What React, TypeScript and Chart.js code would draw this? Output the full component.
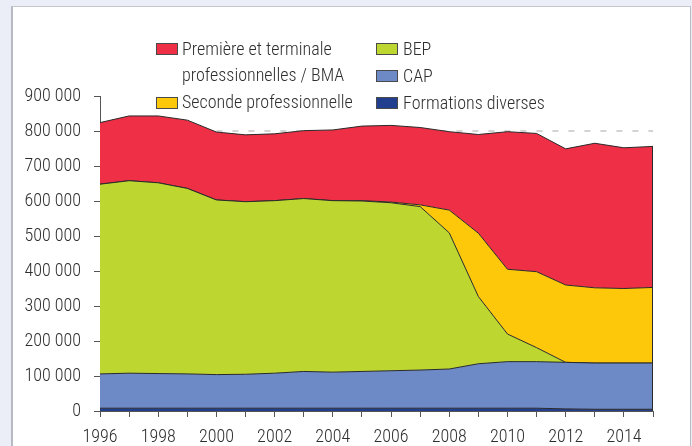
import React, { useEffect, useRef } from "react";
import { Chart, registerables } from "chart.js";

Chart.register(...registerables);

const years = ["1996","1997","1998","1999","2000","2001","2002","2003","2004","2005","2006","2007","2008","2009","2010","2011","2012","2013","2014","2015"];

const formationsDiverses = [8000,8000,8000,8000,8000,8000,8000,8000,8000,8000,8000,8000,8000,8000,8000,8000,6000,5000,5000,5000];
const cap = [98000,100000,99000,98000,96000,97000,100000,105000,103000,105000,107000,109000,112000,127000,133000,133000,133000,132000,132000,132000];
const bep = [542000,550000,545000,530000,499000,493000,493000,494000,490000,487000,480000,467000,389000,192000,79000,40000,0,0,0,0];
const secondePro = [0,0,0,0,0,0,0,0,0,1000,2000,5000,65000,181000,185000,217000,221000,215000,213000,216000];
const premiereTerminale = [176000,185000,191000,195000,194000,191000,191000,194000,202000,213000,219000,221000,224000,282000,393000,395000,389000,413000,402000,403000];
const reference800k = [null,null,null,null,800000,800000,800000,800000,800000,800000,800000,800000,800000,800000,800000,800000,800000,800000,800000,800000];

const FONT = "'Roboto Condensed', 'DejaVu Sans Condensed', sans-serif";
const FONT_SIZE = 18;
const FONT_WEIGHT = 300;
const TEXT = "#2e2e2e";
const AXIS = "#555555";
const EDGE = "#2a2a2a";

const COLORS = {
  premiere: "#ee2f45",
  seconde: "#fec80a",
  bep: "#bed630",
  cap: "#6d8ac6",
  fd: "#223f8f",
};

const fmt = (v: number) => String(v).replace(/\B(?=(\d{3})+(?!\d))/g, " ");

const rightEdge = {
  id: "rightEdge",
  afterDatasetsDraw(chart: any) {
    const meta = chart.getDatasetMeta(4);
    const pts = meta.data;
    if (!pts || !pts.length) return;
    const p = pts[pts.length - 1];
    const ctx = chart.ctx;
    ctx.save();
    ctx.strokeStyle = EDGE;
    ctx.lineWidth = 1;
    ctx.beginPath();
    ctx.moveTo(Math.round(p.x) - 0.5, p.y);
    ctx.lineTo(Math.round(p.x) - 0.5, chart.chartArea.bottom);
    ctx.stroke();
    ctx.restore();
  },
};

export default function App() {
  const ref = useRef<HTMLCanvasElement | null>(null);

  useEffect(() => {
    if (!ref.current) return;
    const area = (label: string, data: number[], color: string, fill: any) => ({
      label,
      data,
      backgroundColor: color,
      borderColor: EDGE,
      borderWidth: 1,
      pointRadius: 0,
      tension: 0,
      fill,
      stack: "main",
      order: 0,
    });
    const chart = new Chart(ref.current, {
      type: "line",
      data: {
        labels: years,
        datasets: [
          area("Formations diverses", formationsDiverses, COLORS.fd, "origin"),
          area("CAP", cap, COLORS.cap, "-1"),
          area("BEP", bep, COLORS.bep, "-1"),
          area("Seconde professionnelle", secondePro, COLORS.seconde, "-1"),
          area("Première et terminale professionnelles / BMA", premiereTerminale, COLORS.premiere, "-1"),
          {
            label: "800 000",
            data: reference800k,
            borderColor: "#a8a8a8",
            borderWidth: 1,
            borderDash: [6, 10],
            pointRadius: 0,
            fill: false,
            stack: "ref",
            order: 5,
          } as any,
        ],
      },
      options: {
        responsive: false,
        animation: false,
        layout: { padding: { top: 96, right: 39, left: 0, bottom: 0 } },
        plugins: {
          legend: { display: false },
          tooltip: { enabled: false },
        },
        scales: {
          x: {
            type: "category",
            offset: false,
            grid: { display: true, drawOnChartArea: false, drawTicks: true, tickLength: 6, color: AXIS, tickColor: AXIS },
            border: { display: true, color: AXIS, width: 1 },
            ticks: {
              autoSkip: false,
              maxRotation: 0,
              minRotation: 0,
              padding: 10,
              color: TEXT,
              font: { family: FONT, size: FONT_SIZE, weight: FONT_WEIGHT },
              callback: (_v: any, i: number) => (i % 2 === 0 ? years[i] : ""),
            },
            afterFit: (s: any) => { s.height = 35; },
          },
          y: {
            stacked: true,
            min: 0,
            max: 900000,
            grid: { display: true, drawOnChartArea: false, drawTicks: true, tickLength: 6, color: AXIS, tickColor: AXIS },
            border: { display: true, color: AXIS, width: 1 },
            ticks: {
              stepSize: 100000,
              padding: 13,
              color: TEXT,
              font: { family: FONT, size: FONT_SIZE, weight: FONT_WEIGHT },
              callback: (v: any) => fmt(Number(v)),
            },
            afterFit: (s: any) => { s.width = 100; },
          },
        },
      } as any,
      plugins: [rightEdge],
    });
    return () => chart.destroy();
  }, []);

  const box = (left: number, top: number, color: string) => (
    <div style={{ position: "absolute", left, top, width: 22, height: 12, background: color, border: "1px solid #4a4a4a", boxSizing: "border-box" }} />
  );
  const text = (left: number, center: number, content: React.ReactNode) => (
    <div style={{ position: "absolute", left, top: center - 13, lineHeight: "26px", fontFamily: FONT, fontSize: FONT_SIZE, fontWeight: FONT_WEIGHT, color: TEXT, whiteSpace: "nowrap" }}>
      {content}
    </div>
  );

  return (
    <div style={{ position: "fixed", left: 0, top: 0, width: 692, height: 446, background: "#ebeef7", overflow: "hidden" }}>
      <div style={{ position: "absolute", left: 11, top: 6, width: 680, height: 460, background: "#ffffff", borderLeft: "2px solid #b7bac2", borderTop: "1px solid #c4c7ce", borderRight: "1px solid #b7bac2", boxSizing: "border-box" }} />
      <canvas ref={ref} width={692} height={446} style={{ position: "absolute", left: 0, top: 0, width: 692, height: 446 }} />
      {box(156, 43, COLORS.premiere)}
      {text(182, 48.5, <>Première et terminale<br />professionnelles / BMA</>)}
      {box(156, 97, COLORS.seconde)}
      {text(182, 101.5, "Seconde professionnelle")}
      {box(376, 43, COLORS.bep)}
      {text(403, 49, "BEP")}
      {box(376, 70, COLORS.cap)}
      {text(403, 76, "CAP")}
      {box(376, 97, COLORS.fd)}
      {text(403, 102.5, "Formations diverses")}
    </div>
  );
}
